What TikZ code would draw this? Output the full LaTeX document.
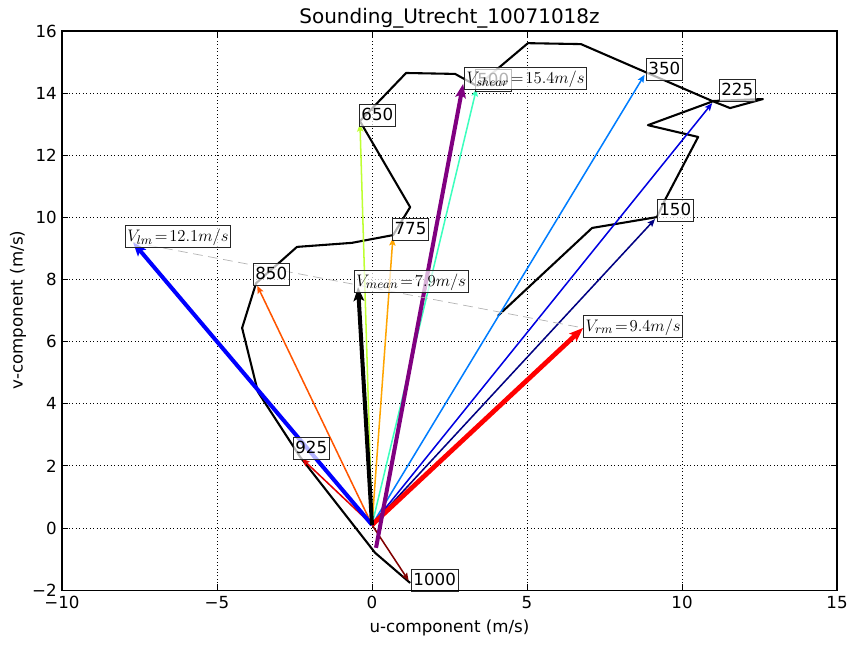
\documentclass[tikz,border=0pt]{standalone}
\usepackage{fontspec}
\setmainfont{DejaVu Sans}
\usetikzlibrary{arrows.meta}
\definecolor{c1000}{RGB}{128,0,0}
\definecolor{c925}{RGB}{225,0,0}
\definecolor{c850}{RGB}{255,85,0}
\definecolor{c775}{RGB}{255,165,0}
\definecolor{c650}{RGB}{190,255,50}
\definecolor{c500}{RGB}{60,255,190}
\definecolor{c350}{RGB}{0,125,255}
\definecolor{c225}{RGB}{0,0,225}
\definecolor{c150}{RGB}{0,0,130}
\definecolor{shearcol}{RGB}{128,0,128}
\tikzset{
  lvl/.style={line width=1.1pt,shorten >=2pt,-{Stealth[length=5.5pt,width=4.5pt,inset=1pt]}},
  vec/.style={line width=2.9pt,-{Stealth[length=10pt,width=7.5pt,inset=2pt]}},
  tag/.style={draw=black!85,line width=0.5pt,fill=white,fill opacity=0.7,text opacity=1,
    inner xsep=1.5pt,inner ysep=2pt,text height=9.5pt,text depth=2.6pt,anchor=south west,
    font=\fontsize{12}{14}\selectfont},
  mtag/.style={tag,font=\fontsize{12.8}{15}\selectfont},
  tick/.style={anchor=north,inner sep=0pt,font=\fontsize{12}{14}\selectfont}
}
\begin{document}
\begin{tikzpicture}[x=22.32pt,y=22.36pt]
\useasboundingbox (-12,-3.864) rectangle (15.58,17);
\foreach \u in {-5,0,5,10} \draw[dotted,line width=0.5pt] (\u,-2) -- (\u,16);
\foreach \v in {0,2,...,14} \draw[dotted,line width=0.5pt] (-10,\v) -- (15,\v);
\coordinate (O) at (0,0.1);
\coordinate (p1000) at (1.23,-1.77);
\coordinate (p925) at (-2.32,2.29);
\coordinate (p850) at (-3.74,7.88);
\coordinate (p775) at (0.68,9.43);
\coordinate (p650) at (-0.39,13.1);
\coordinate (p500) at (3.39,14.23);
\coordinate (p350) at (8.84,14.67);
\coordinate (p225) at (11.03,13.75);
\coordinate (p150) at (9.19,10.01);
\coordinate (lm) at (-7.71,9.2);
\coordinate (rm) at (6.81,6.44);
\coordinate (mean) at (-0.45,7.76);
\coordinate (s0) at (0.13,-0.64);
\coordinate (s1) at (2.94,14.3);
\draw[line width=1.5pt,line join=round] (p1000) -- (0.1,-0.8) -- (p925) -- (-3.68,4.38)
  -- (-4.19,6.44) -- (p850) -- (-2.42,9.05) -- (-0.65,9.18) -- (p775) -- (1.23,10.33)
  -- (p650) -- (1.1,14.65) -- (2.68,14.62) -- (p500) -- (5.03,15.61) -- (6.74,15.58)
  -- (p350) -- (10.97,13.75) -- (11.55,13.52) -- (12.61,13.81) -- (p225) -- (8.9,12.97)
  -- (10.52,12.59) -- (9.45,10.56) -- (p150) -- (7.1,9.66) -- (4.06,6.83);
\foreach \p in {1000,925,850,775,650,500,350,225,150}
  \draw[lvl,c\p] (O) -- (p\p);
\draw[vec,blue] (O) -- (lm);
\draw[vec,red,line width=3.4pt] (O) -- (rm);
\draw[vec,black] (O) -- (mean);
\draw[vec,shearcol] (s0) -- (s1);
\draw[gray!60,line width=0.5pt,dash pattern=on 7pt off 4pt] (lm) -- (rm);
\node[tag] (t1000) at (1.26,-2.06) {1000};
\node[tag] (t925) at (-2.55,2.19) {925};
\node[tag] (t850) at (-3.84,7.79) {850};
\node[tag] (t775) at (0.65,9.24) {775};
\node[tag] (t650) at (-0.42,12.91) {650};
\node[tag] (t500) at (3.32,14.04) {500};
\node[tag] (t350) at (8.84,14.39) {350};
\node[tag] (t225) at (11.19,13.72) {225};
\node[tag] (t150) at (9.19,9.85) {150};
\node[mtag] (tlm) at (-7.97,9.01) {$V_{lm}\mkern2mu{=}\mkern2mu12.1m/s$};
\node[mtag] (tmean) at (-0.58,7.57) {$V_{mean}\mkern2mu{=}\mkern2mu7.9m/s$};
\node[mtag] (trm) at (6.81,6.12) {$V_{rm}\mkern2mu{=}\mkern2mu9.4m/s$};
\node[mtag] (tshear) at (2.97,14.1) {$V_{shear}\mkern2mu{=}\mkern2mu15.4m/s$};
\draw[line width=0.8pt] (-10,-2) rectangle (15,16);
\foreach \u/\t in {-10/−10,-5/−5,0/0,5/5,10/10,15/15} {
  \draw[line width=0.5pt] (\u,-2) -- ++(0,0.18) (\u,16) -- ++(0,-0.18);
  \node[tick] at ([yshift=-4.3pt]\u,-2) {\t};
}
\foreach \v/\t in {-2/−2,0/0,2/2,4/4,6/6,8/8,10/10,12/12,14/14,16/16} {
  \draw[line width=0.5pt] (-10,\v) -- ++(0.18,0) (15,\v) -- ++(-0.18,0);
  \node[tick,anchor=east] at ([xshift=-3.6pt]-10,\v) {\t};
}
\node[font=\fontsize{12}{14}\selectfont] (xlab) at (2.5,-3.22) {u-component (m/s)};
\node[font=\fontsize{12}{14}\selectfont,rotate=90] (ylab) at (-11.42,7.02) {v-component (m/s)};
\node[font=\fontsize{14.4}{17}\selectfont] (title) at (2.5,16.42) {Sounding\_Utrecht\_10071018z};
\end{tikzpicture}
\end{document}
